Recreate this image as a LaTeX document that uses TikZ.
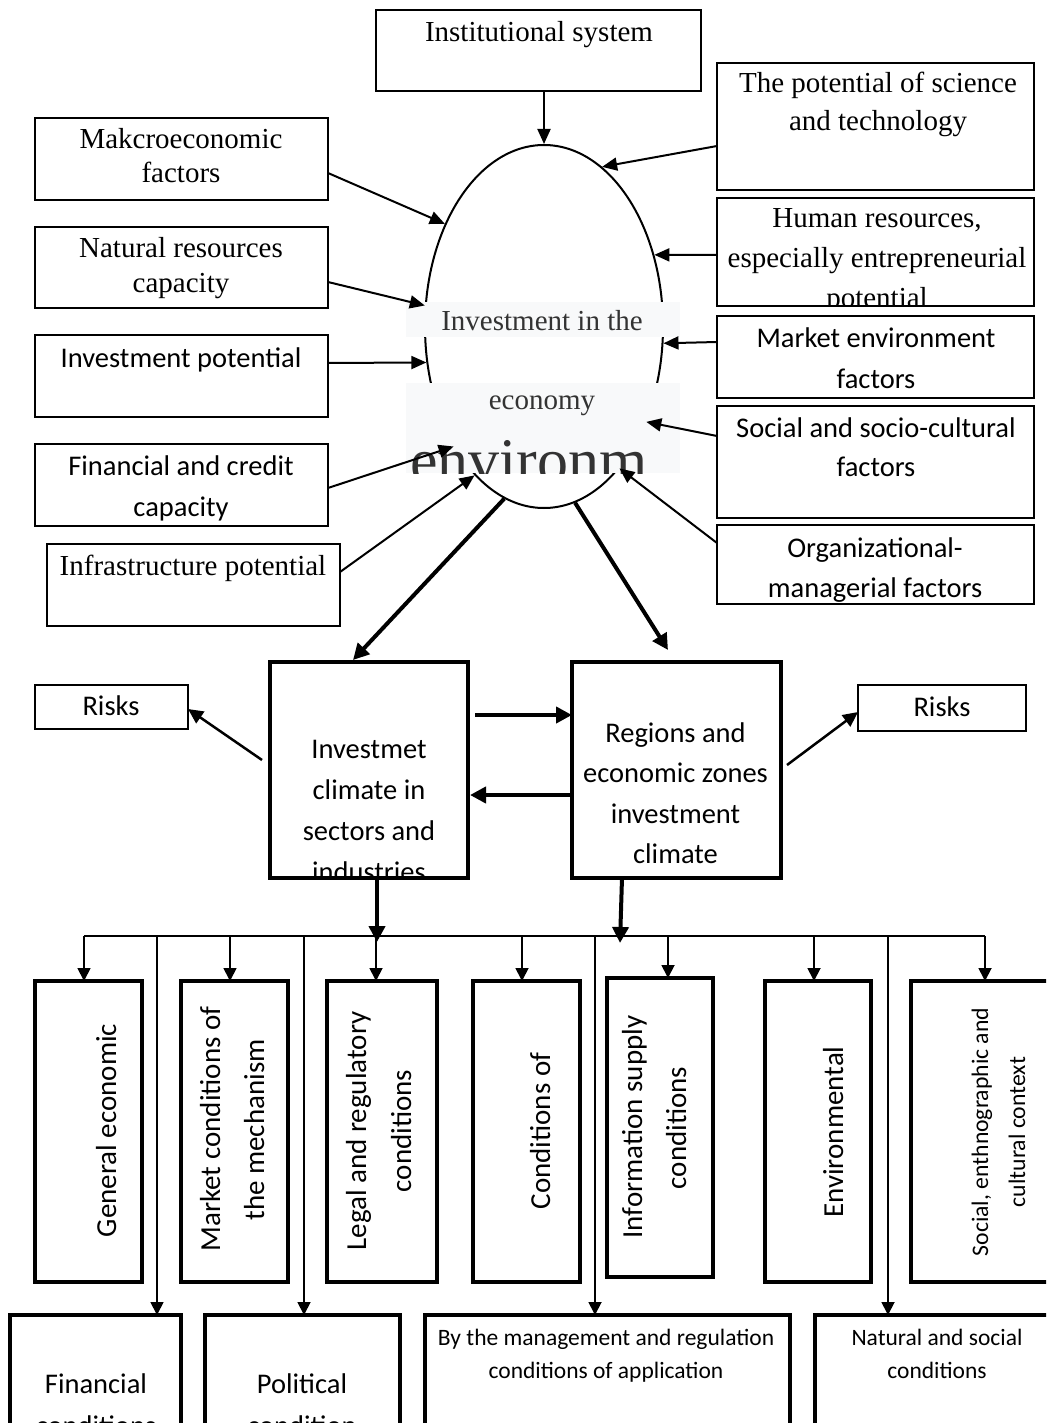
\documentclass[tikz,border=0pt]{standalone}
\usepackage{fontspec}
\usetikzlibrary{arrows.meta,calc,shapes.geometric}
\newfontfamily\fTimes{Liberation Serif}
\newfontfamily\fCal{Carlito}
\definecolor{ovfill}{RGB}{248,249,250}
\definecolor{ovtext}{RGB}{51,51,51}
\newcommand\mkbox[6]{%
  \node[#2, minimum width={#5-#3}, minimum height={#6-#4}] (#1) at ({(#3+#5)/2},{(#4+#6)/2}) {};}
\newcommand\txtl[6]{%
  \foreach \tline [count=\i] in {#6} {
    \node[#2, anchor=base] (#1-\i) at (#3, {#4+(\i-1)*#5}) {\tline};
  }}
\tikzset{
  thinbox/.style={draw, rectangle, line width=2pt, inner sep=0, outer sep=0},
  medbox/.style={draw, rectangle, line width=2.6pt, inner sep=0, outer sep=0},
  thickbox/.style={draw, rectangle, line width=4.5pt, inner sep=0, outer sep=0},
  ovbox/.style={fill=ovfill, rectangle, inner sep=0, outer sep=0},
  tt/.style={font={\fTimes\fontsize{29}{34}\selectfont}, inner sep=0},
  ct/.style={font={\fCal\fontsize{28.5}{34}\selectfont}, inner sep=0},
  cs/.style={font={\fCal\fontsize{23.5}{28}\selectfont}, inner sep=0},
  vt/.style={font={\fCal\fontsize{29}{34}\selectfont}, rotate=90, inner sep=0, anchor=base},
  vts/.style={font={\fCal\fontsize{23.7}{28}\selectfont}, rotate=90, inner sep=0, anchor=base},
  ovt/.style={font={\fTimes\fontsize{29}{34}\selectfont}, text=ovtext, inner sep=0},
  arr/.style={-{Triangle[length=15pt,width=13pt]}, line width=2pt},
  arrT/.style={-{Triangle[length=16pt,width=16pt]}, line width=4pt},
  arrR/.style={-{Triangle[length=15pt,width=14pt]}, line width=2.5pt},
  arrD/.style={-{Triangle[length=13pt,width=13pt]}, line width=1.8pt},
  busline/.style={line width=2pt},
}
\begin{document}
\begin{tikzpicture}[x=1pt,y=-1pt]
\useasboundingbox (0,0) rectangle (1046,1423);
\fill[white] (0,0) rectangle (1046,1423);
\clip (0,0) rectangle (1046,1423);

% ---------- top boxes ----------
\mkbox{inst}{medbox}{376}{10}{701}{91}
\txtl{instT}{tt}{539}{42}{34}{{Institutional system}}

\mkbox{makc}{thinbox}{35}{118}{328}{200}
\txtl{makcT}{tt}{181}{149}{34}{Makcroeconomic,factors}
\mkbox{natr}{thinbox}{35}{227}{328}{308}
\txtl{natrT}{tt}{181}{258}{34}{{Natural resources},capacity}
\mkbox{invp}{thinbox}{35}{335}{328}{417}
\txtl{invpT}{ct}{181}{367}{41}{{Investment potential}}
\mkbox{fin}{thinbox}{35}{444}{328}{526}
\txtl{finT}{ct}{181}{475}{41}{{Financial and credit},capacity}
\mkbox{infra}{thinbox}{47}{544}{340}{626}
\txtl{infraT}{tt}{193}{575}{34}{{Infrastructure potential}}

\mkbox{sci}{thinbox}{717}{63}{1034}{190}
\txtl{sciT}{tt}{878}{93}{38}{{The potential of science},{and technology}}
\mkbox{hum}{thinbox}{717}{198}{1034}{306}
\begin{scope}
  \clip (hum.south west) rectangle (hum.north east);
  \txtl{humT}{tt}{877}{228}{39.5}{{Human resources,},{especially entrepreneurial},potential}
\end{scope}
\mkbox{mkt}{thinbox}{717}{316}{1034}{398}
\txtl{mktT}{ct}{876}{347}{41}{{Market environment},factors}
\mkbox{soc}{thinbox}{717}{406}{1034}{518}
\txtl{socT}{ct}{876}{437}{39}{{Social and socio-cultural},factors}
\mkbox{org}{thinbox}{717}{525}{1034}{604}
\begin{scope}
  \clip (org.south west) rectangle (org.north east);
  \txtl{orgT}{ct}{875}{557}{40}{Organizational-,{managerial factors}}
\end{scope}

% ---------- central ellipse ----------
\node[draw, ellipse, line width=2pt, minimum width=238, minimum height=363, inner sep=0] (ell) at (544,326.5) {};
\mkbox{ov1}{ovbox}{406}{302}{680}{337}
\mkbox{ov2}{ovbox}{406}{383}{680}{473}
\node[ovt, anchor=base] (ovT1) at (542,330) {Investment in the};
\node[ovt, anchor=base] (ovT2) at (542,409) {economy};
\begin{scope}
  \clip (ov2.south west) rectangle (ov2.north east);
  \node[font={\fTimes\fontsize{62}{70}\selectfont}, text=ovtext, inner sep=0, anchor=base west] (ovT3) at (410,481) {environm};
\end{scope}

% ---------- arrows into ellipse ----------
\draw[arr] (inst.south -| ell.north) -- (ell.north);
\draw[arr] (makc.east |- 0,173) -- (ell.134);
\draw[arr] (natr.east |- 0,282) -- (ell.170);
\draw[arr] (invp.east |- 0,363) -- (ell.197.6);
\draw[arr] (fin.east |- 0,488) -- (ell.233);
\draw[arr] (infra.east |- 0,572) -- (ell.245);
\draw[arr] (sci.west |- 0,146) -- (ell.70);
\draw[arr] (hum.west |- 0,255) -- (ell.33);
\draw[arr] (mkt.west |- 0,342) -- (ell.352.5);
\draw[arr] (soc.west |- 0,436) -- (ell.317);
\draw[arr] (org.west |- 0,543) -- (ell.298);

% ---------- middle boxes ----------
\mkbox{lbox}{thickbox}{270}{662}{468}{878}
\begin{scope}
  \clip (lbox.south west) rectangle (lbox.north east);
  \txtl{lboxT}{ct}{369}{758}{41}{Investmet,{climate in},{sectors and},industries}
\end{scope}
\mkbox{rbox}{thickbox}{572}{662}{781}{878}
\txtl{rboxT}{ct}{675.5}{742}{40.5}{{Regions and},{economic zones},investment,climate}

\draw[arrT] (ell.257) -- ($(lbox.north west)+(83,-2)$);
\draw[arrT] (ell.280) -- ($(rbox.north west)+(96,-12)$);
\draw[arrT] ($(lbox.east |- 0,715)+(7,0)$) -- (rbox.west |- 0,715);
\draw[arrT] (rbox.west |- 0,795) -- ($(lbox.east |- 0,795)+(2,0)$);

\mkbox{riskL}{thinbox}{35}{685}{188}{729}
\txtl{riskLT}{ct}{111}{715}{0}{Risks}
\mkbox{riskR}{thinbox}{858}{685}{1026}{731}
\txtl{riskRT}{ct}{942}{716}{0}{Risks}
\draw[arrR] ($(lbox.west)+(-8,-10)$) -- (riskL.east |- 0,709);
\draw[arrR] ($(rbox.east)+(6,-5)$) -- (riskR.west |- 0,712);

% ---------- distribution bus ----------
\coordinate (busL) at (84,936);
\coordinate (busR) at (985,936);
\draw[busline] (busL) -- (busR);
\draw[arrT] (lbox.south -| 377,0) -- ($(busL -| 377,0)+(0,6)$);
\draw[arrT] (rbox.south -| 622,0) -- ($(busL -| 620,0)+(0,7)$);

% ---------- vertical boxes ----------
\mkbox{v1}{thickbox}{35}{981}{142}{1282}
\mkbox{v2}{thickbox}{181}{981}{288}{1282}
\mkbox{v3}{thickbox}{327}{981}{437}{1282}
\mkbox{v4}{thickbox}{473}{981}{580}{1282}
\mkbox{v5}{thickbox}{607}{978}{713}{1277}
\mkbox{v6}{thickbox}{765}{981}{871}{1282}
\mkbox{v7}{thickbox}{911}{981}{1060}{1282}

\node[vt] (v1T) at (116,1130.5) {General economic};
\node[vt] (v2T1) at (220,1129) {Market conditions of};
\node[vt] (v2T2) at (264,1130) {the mechanism};
\node[vt] (v3T1) at (366,1131) {Legal and regulatory};
\node[vt] (v3T2) at (411,1131) {conditions};
\node[vt] (v4T) at (550,1131) {Conditions of};
\node[vt] (v5T1) at (642,1127) {Information supply};
\node[vt] (v5T2) at (686,1128) {conditions};
\node[vt] (v6T) at (843,1132) {Environmental};
\node[vts] (v7T1) at (988,1132) {Social, enthnographic and};
\node[vts] (v7T2) at (1025,1132) {cultural context};

% ---------- bottom boxes ----------
\mkbox{f1}{thickbox}{10}{1315}{181}{1445}
\mkbox{f2}{thickbox}{205}{1315}{400}{1445}
\mkbox{f3}{thickbox}{425}{1315}{790}{1445}
\mkbox{f4}{thickbox}{815}{1315}{1060}{1445}
\txtl{f1T}{ct}{96}{1393}{42}{Financial,conditions}
\txtl{f2T}{ct}{302}{1393}{42}{Political,condition}
\txtl{f3T}{cs}{606}{1345}{33}{{By the management and regulation},{conditions of application}}
\txtl{f4T}{cs}{937}{1345}{33}{{Natural and social},conditions}

% ---------- drops ----------
\foreach \xx/\bb in {84/v1,230/v2,376/v3,522/v4,668/v5,814/v6,985/v7}
  \draw[arrD] (busL -| \xx,0) -- (\bb.north -| \xx,0);
\foreach \xx/\bb in {157/f1,304/f2,595/f3,888/f4}
  \draw[arrD] (busL -| \xx,0) -- (\bb.north -| \xx,0);
\end{tikzpicture}
\end{document}
